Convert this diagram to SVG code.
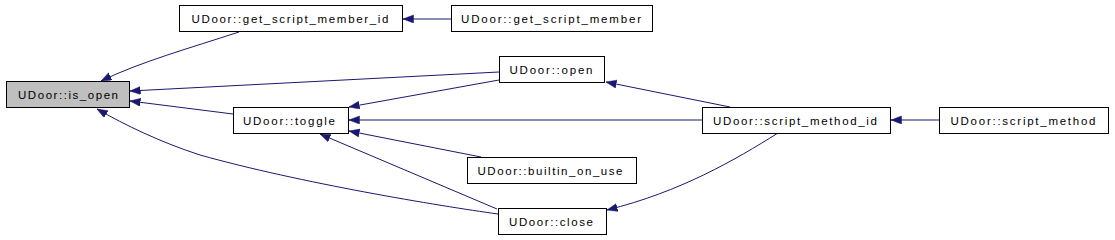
<svg xmlns="http://www.w3.org/2000/svg" width="1115" height="240" viewBox="0 0 1115 240">
<style>
.n rect{fill:#fff;stroke:#000;stroke-width:1}
.n.hl rect{fill:#bfbfbf}
.n text{font-family:"Liberation Sans","DejaVu Sans",sans-serif;font-size:11.5px;fill:#000;text-anchor:middle}
.e path{fill:none;stroke:#191970;stroke-width:1;marker-end:url(#ah)}
</style>
<defs>
<marker id="ah" markerUnits="userSpaceOnUse" markerWidth="12" markerHeight="9" refX="10.5" refY="4" orient="auto">
<path d="M0,0 L10.5,4 L0,8 z" fill="#191970" stroke="#191970" stroke-width="0.5"/>
</marker>
</defs>
<rect x="0" y="0" width="1115" height="240" fill="#fff"/>
<g id="connectors" class="e">
<path d="M451,19 L403,19"/>
<path d="M939,120 L891,120"/>
<path d="M702,120 L349,120"/>
<path d="M239,32 C190,48 140,62 101,81"/>
<path d="M499,72 L130,91"/>
<path d="M233,114 L130,101"/>
<path d="M499,80 L349,107"/>
<path d="M481,157 L349,131"/>
<path d="M497,209 L320,134"/>
<path d="M498,214 C440,206 300,183 200,155 C160,142 125,125 97,109"/>
<path d="M730,107 L606,82"/>
<path d="M778,133 C735,160 680,192 607,210"/>
</g>
<g id="is_open" class="n hl"><rect x="6.5" y="81.5" width="123" height="26"/><text x="68" y="99" textLength="100" lengthAdjust="spacing">UDoor::is_open</text></g>
<g id="get_script_member_id" class="n"><rect x="179.5" y="5.5" width="223" height="26"/><text x="290" y="23" textLength="197" lengthAdjust="spacing">UDoor::get_script_member_id</text></g>
<g id="get_script_member" class="n"><rect x="451.5" y="5.5" width="201" height="26"/><text x="551" y="23" textLength="180" lengthAdjust="spacing">UDoor::get_script_member</text></g>
<g id="open" class="n"><rect x="499.5" y="56.5" width="105" height="26"/><text x="551" y="74" textLength="83" lengthAdjust="spacing">UDoor::open</text></g>
<g id="toggle" class="n"><rect x="233.5" y="107.5" width="115" height="26"/><text x="289" y="125" textLength="92" lengthAdjust="spacing">UDoor::toggle</text></g>
<g id="builtin_on_use" class="n"><rect x="467.5" y="157.5" width="169" height="26"/><text x="550" y="175" textLength="145" lengthAdjust="spacing">UDoor::builtin_on_use</text></g>
<g id="close" class="n"><rect x="498.5" y="208.5" width="108" height="26"/><text x="551" y="226" textLength="84" lengthAdjust="spacing">UDoor::close</text></g>
<g id="script_method_id" class="n"><rect x="702.5" y="107.5" width="188" height="26"/><text x="795" y="125" textLength="164" lengthAdjust="spacing">UDoor::script_method_id</text></g>
<g id="script_method" class="n"><rect x="939.5" y="107.5" width="169" height="26"/><text x="1023" y="125" textLength="145" lengthAdjust="spacing">UDoor::script_method</text></g>
</svg>
